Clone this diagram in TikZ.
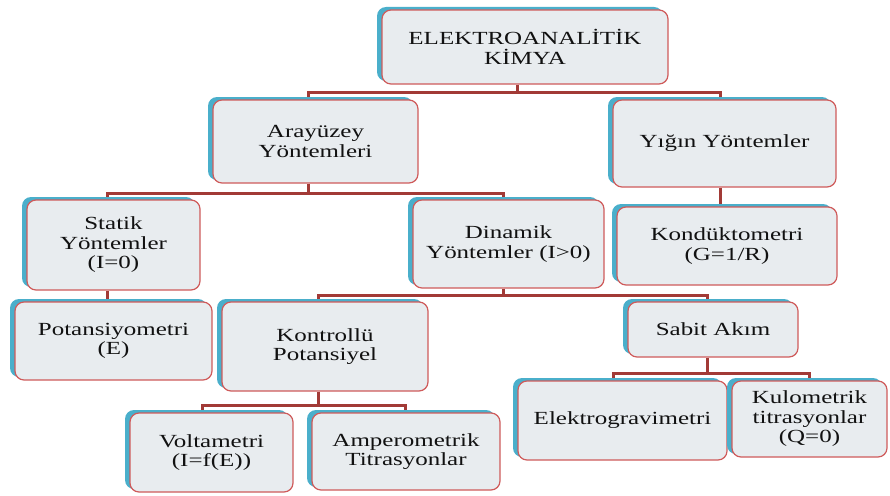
\documentclass[tikz,border=0pt]{standalone}
\usepackage{fontspec}
\setmainfont{Liberation Serif}[FakeStretch=1.35]
\usetikzlibrary{shadows,backgrounds}
\definecolor{boxfill}{HTML}{E8ECEF}
\definecolor{boxred}{HTML}{CF5B5B}
\definecolor{boxblue}{HTML}{4AAFCB}
\definecolor{linkred}{HTML}{A23A36}
\definecolor{boxtext}{HTML}{111111}

\begin{document}
\begin{tikzpicture}[x=1pt, y=-1pt,
  box/.style={draw=boxred, line width=1.2pt, fill=boxfill, rounded corners=9pt,
    align=center, inner sep=2pt, text=boxtext, font=\fontsize{18.5}{19.5}\selectfont,
    general shadow={fill=boxblue, shadow xshift=-5pt, shadow yshift=3pt}},
  link/.style={draw=linkred, line width=3pt},
]
\useasboundingbox (0,0) rectangle (890,495);

  % levels top to bottom
  \node[box, minimum width=286pt, minimum height=74pt] (root) at (525,47) {ELEKTROANALİTİK\\KİMYA};
  \node[box, minimum width=205pt, minimum height=83pt] (ara) at (315.5,141.5) {Arayüzey\\Yöntemleri};
  \node[box, minimum width=223pt, minimum height=87pt] (yig) at (724.5,143.5) {Yığın Yöntemler};
  \node[box, minimum width=173pt, minimum height=90pt] (sta) at (113.5,245) {Statik\\Yöntemler\\(I=0)};
  \node[box, minimum width=191pt, minimum height=88pt] (din) at (508.5,244) {Dinamik\\Yöntemler (I>0)};
  \node[box, minimum width=220pt, minimum height=78pt] (kon) at (727,246) {Kondüktometri\\(G=1/R)};
  \node[box, minimum width=197pt, minimum height=78pt] (pot) at (113.5,341) {Potansiyometri\\(E)};
  \node[box, minimum width=206pt, minimum height=89pt] (kpo) at (325,346.5) {Kontrollü\\Potansiyel};
  \node[box, minimum width=170pt, minimum height=55pt] (sab) at (713,329.5) {Sabit Akım};
  \node[box, minimum width=163pt, minimum height=79pt] (vol) at (211.5,452.5) {Voltametri\\(I=f(E))};
  \node[box, minimum width=188pt, minimum height=77pt] (amp) at (406,451.5) {Amperometrik\\Titrasyonlar};
  \node[box, minimum width=209pt, minimum height=79pt] (ele) at (622.5,420.5) {Elektrogravimetri};
  \node[box, minimum width=155pt, minimum height=76pt] (kul) at (809.5,419) {Kulometrik\\titrasyonlar\\(Q=0)};

  \begin{scope}[on background layer]
    \draw[link] ([xshift=-8pt]root.south) -- ++(0,8) -| ([xshift=-7pt]ara.north);
    \draw[link] ([xshift=-8pt]root.south) -- ++(0,8) -| ([xshift=-4pt]yig.north);
    \draw[link] ([xshift=-4pt]yig.south) -- ([xshift=-4pt]yig.south |- kon.north);
    \draw[link] ([xshift=-7pt]ara.south) -- ++(0,10) -| ([xshift=-6pt]sta.north);
    \draw[link] ([xshift=-7pt]ara.south) -- ++(0,10) -| ([xshift=-5pt]din.north);
    \draw[link] ([xshift=-6pt]sta.south) -- ([xshift=-6pt]sta.south |- pot.north);
    \draw[link] ([xshift=-5pt]din.south) -- ++(0,7) -| ([xshift=-7pt]kpo.north);
    \draw[link] ([xshift=-5pt]din.south) -- ++(0,7) -| ([xshift=-6pt]sab.north);
    \draw[link] ([xshift=-7pt]kpo.south) -- ++(0,14) -| ([xshift=-9pt]vol.north);
    \draw[link] ([xshift=-7pt]kpo.south) -- ++(0,14) -| ([xshift=-1pt]amp.north);
    \draw[link] ([xshift=-6pt]sab.south) -- ++(0,16) -| ([xshift=-9pt]ele.north);
    \draw[link] ([xshift=-6pt]sab.south) -- ++(0,16) -| (kul.north);
  \end{scope}
\end{tikzpicture}
\end{document}
